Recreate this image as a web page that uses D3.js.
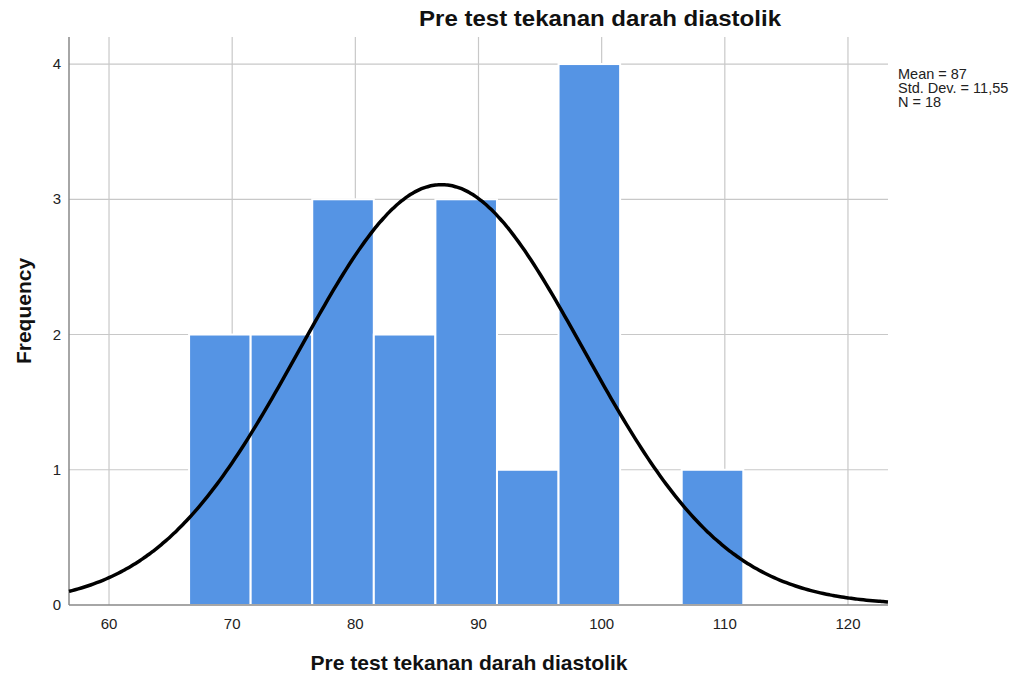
<!DOCTYPE html>
<html><head><meta charset="utf-8">
<script src="https://cdn.jsdelivr.net/npm/d3@7"></script>
<style>body{margin:0;background:#fff;font-family:Arial,"Liberation Sans",sans-serif;}</style>
</head><body>
<svg id="c" width="1018" height="677"></svg>
<script>
const binStarts = [66.5, 71.5, 76.5, 81.5, 86.5, 91.5, 96.5, 101.5, 106.5];
const binWidth = 5;
const frequencies = [2, 2, 3, 2, 3, 1, 4, 0, 1];
const xTicks = [60, 70, 80, 90, 100, 110, 120];
const yTicks = [0, 1, 2, 3, 4];
const statsLabels = ["Mean = 87", "Std. Dev. = 11,55", "N = 18"];
const mean = 87, sd = 11.55, n = 18;

const svg = d3.select("#c");
const L = 69, R = 888, T = 37, B = 605;
const x = d3.scaleLinear().domain([56.75, 123.25]).range([L, R]);
const y = d3.scaleLinear().domain([0, 4.2]).range([B, T]);

// grid
svg.append("g").selectAll("line").data(xTicks).join("line")
  .attr("x1", d => x(d)).attr("x2", d => x(d)).attr("y1", T).attr("y2", B)
  .attr("stroke", "#c8c8c8").attr("stroke-width", 1.2);
svg.append("g").selectAll("line").data(yTicks.filter(d => d > 0)).join("line")
  .attr("x1", L).attr("x2", R).attr("y1", d => y(d)).attr("y2", d => y(d))
  .attr("stroke", "#c8c8c8").attr("stroke-width", 1.2);

// bars
svg.append("g").selectAll("rect").data(binStarts.map((s, i) => ({s, f: frequencies[i]})).filter(d => d.f > 0)).join("rect")
  .attr("x", d => x(d.s)).attr("width", d => x(d.s + binWidth) - x(d.s))
  .attr("y", d => y(d.f)).attr("height", d => y(0) - y(d.f))
  .attr("fill", "#5594e4").attr("stroke", "#fff").attr("stroke-width", 2);

// axes lines
svg.append("line").attr("x1", L).attr("x2", L).attr("y1", T).attr("y2", B).attr("stroke", "#888").attr("stroke-width", 1.5);
svg.append("line").attr("x1", L).attr("x2", R).attr("y1", B).attr("y2", B).attr("stroke", "#888").attr("stroke-width", 1.5);

// normal curve
const xs = d3.range(56.75, 123.26, 0.25);
const norm = v => n * binWidth / (sd * Math.sqrt(2 * Math.PI)) * Math.exp(-0.5 * ((v - mean) / sd) ** 2);
svg.append("path").datum(xs)
  .attr("d", d3.line().x(d => x(d)).y(d => y(norm(d))).curve(d3.curveBasis))
  .attr("fill", "none").attr("stroke", "#000").attr("stroke-width", 3.5);

// tick labels
svg.append("g").selectAll("text").data(xTicks).join("text")
  .attr("x", d => x(d)).attr("y", 629).attr("text-anchor", "middle")
  .attr("font-size", 15).attr("fill", "#222").text(d => d);
svg.append("g").selectAll("text").data(yTicks).join("text")
  .attr("x", 61).attr("y", d => y(d) + 5).attr("text-anchor", "end")
  .attr("font-size", 15).attr("fill", "#222").text(d => d);

// titles
svg.append("text").attr("x", 600).attr("y", 26).attr("text-anchor", "middle")
  .attr("font-size", 22).attr("font-weight", "bold").attr("fill", "#111")
  .attr("textLength", 362).attr("lengthAdjust", "spacingAndGlyphs")
  .text("Pre test tekanan darah diastolik");
svg.append("text").attr("x", 469).attr("y", 670).attr("text-anchor", "middle")
  .attr("font-size", 21).attr("font-weight", "bold").attr("fill", "#111")
  .attr("textLength", 317).attr("lengthAdjust", "spacingAndGlyphs")
  .text("Pre test tekanan darah diastolik");
svg.append("text").attr("transform", "translate(31,311) rotate(-90)").attr("text-anchor", "middle")
  .attr("font-size", 21).attr("font-weight", "bold").attr("fill", "#111").text("Frequency");

// stats
svg.append("g").selectAll("text").data(statsLabels).join("text")
  .attr("x", 898).attr("y", (d, i) => 79 + i * 14)
  .attr("font-size", 14.5).attr("fill", "#222").text(d => d);
</script>
</body></html>
